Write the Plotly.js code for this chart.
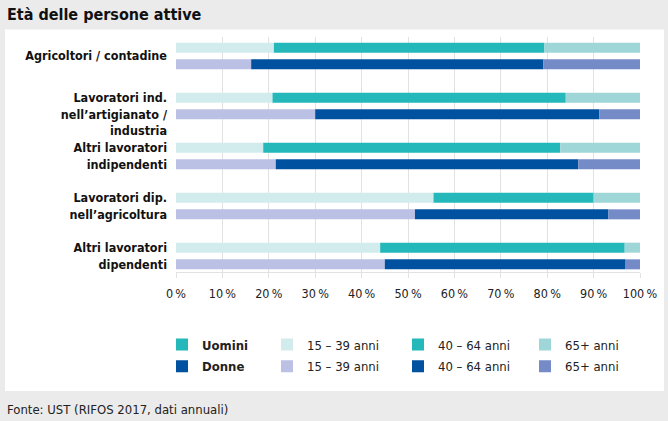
<!DOCTYPE html>
<html>
<head>
<meta charset="utf-8">
<script src="https://cdn.plot.ly/plotly-3.0.1.min.js"></script>
<style>
html,body{margin:0;padding:0;background:#ebebeb;}
#chart{width:668px;height:421px;}
</style>
</head>
<body>
<div id="chart"></div>
<script>
// ---- data ----
const categories = [
  "Agricoltori / contadine",
  "Lavoratori ind.<br>nell’artigianato /<br>industria",
  "Altri lavoratori<br>indipendenti",
  "Lavoratori dip.<br>nell’agricoltura",
  "Altri lavoratori<br>dipendenti"
];
const ageLabels = ["15 – 39 anni", "40 – 64 anni", "65+ anni"];
const men15 = [21.1, 20.8, 18.8, 55.5, 44.0];
const men40 = [58.3, 63.2, 64.0, 34.5, 52.7];
const men65 = [20.6, 16.0, 17.2, 10.0, 3.3];
const women15 = [16.2, 30.0, 21.5, 51.5, 45.0];
const women40 = [63.0, 61.2, 65.2, 41.7, 51.9];
const women65 = [20.8, 8.8, 13.3, 6.8, 3.1];
const xTicks = [0, 10, 20, 30, 40, 50, 60, 70, 80, 90, 100];

// ---- styles ----
const FONT = "'DejaVu Sans Condensed', 'Liberation Sans Narrow', 'Roboto', sans-serif";
const menColors = ["#d2ecee", "#25b8ba", "#9fd6d8"];
const womenColors = ["#bbc1e4", "#0051a0", "#748bc7"];

function addBase(a, b) { return a.map((v, i) => v + b[i]); }
const zeros = categories.map(() => 0);
const menSeries = [men15, men40, men65];
const womenSeries = [women15, women40, women65];

const traces = [];
// legend headers (no data)
traces.push({type: "bar", orientation: "h", x: [null], y: [categories[0]], name: "<b>Uomini</b>",
  marker: {color: "#25b8ba", line: {width: 0}}, legend: "legend", legendgroup: "hm", showlegend: true, hoverinfo: "skip"});
traces.push({type: "bar", orientation: "h", x: [null], y: [categories[0]], name: "<b>Donne</b>",
  marker: {color: "#0051a0", line: {width: 0}}, legend: "legend", legendgroup: "hw", showlegend: true, hoverinfo: "skip"});

const legendIds = ["legend2", "legend3", "legend4"];
for (let k = 0; k < 3; k++) {
  let baseM = zeros.slice(), baseW = zeros.slice();
  for (let j = 0; j < k; j++) { baseM = addBase(baseM, menSeries[j]); baseW = addBase(baseW, womenSeries[j]); }
  traces.push({type: "bar", orientation: "h", y: categories, x: menSeries[k], base: baseM,
    offsetgroup: "m", name: ageLabels[k], legend: legendIds[k], legendgroup: "m" + k,
    marker: {color: menColors[k], line: {width: 0}}});
  traces.push({type: "bar", orientation: "h", y: categories, x: womenSeries[k], base: baseW,
    offsetgroup: "w", name: ageLabels[k], legend: legendIds[k], legendgroup: "w" + k,
    marker: {color: womenColors[k], line: {width: 0}}});
}

// geometry helpers (pixel -> paper)
const L = 176, R = 640, T = 37, B = 272;
const px = v => (v - L) / (R - L);
const py = v => (B - v) / (B - T);

const legendBase = {orientation: "v", xanchor: "left", yanchor: "top", bgcolor: "rgba(0,0,0,0)",
  font: {family: FONT, size: 13, color: "#222"}, itemclick: false, itemdoubleclick: false, tracegroupgap: 2};
const legendY = py(329.5);

const yTickText = categories.map((c, i) => i === 1 ? "\u00a0<br>" + c : c);
const xTickText = xTicks.map(v => v + "\u2009%");

const layout = {
  width: 668, height: 421,
  paper_bgcolor: "#ebebeb", plot_bgcolor: "#ffffff",
  margin: {l: L, r: 668 - R, t: T, b: 421 - B, pad: 0},
  font: {family: FONT, color: "#222"},
  title: {text: "<b>Età delle persone attive</b>", x: 7 / 668, xref: "container", xanchor: "left",
    y: 1 - 14 / 421, yref: "container", yanchor: "middle", font: {family: FONT, size: 16, color: "#111"}},
  barmode: "group", bargap: 0.333, bargroupgap: 0.4,
  xaxis: {range: [0, 100], tickvals: xTicks, ticktext: xTickText, showgrid: true, gridcolor: "#e2e2e2",
    gridwidth: 1, zeroline: false, showline: true, linecolor: "#e2e2e2", ticks: "outside", ticklen: 5,
    tickcolor: "#e2e2e2", ticklabelstandoff: 5, tickfont: {family: FONT, size: 12.5, color: "#222"}, fixedrange: true},
  yaxis: {type: "category", range: [4.32, -0.38], tickvals: categories, ticktext: yTickText,
    showgrid: false, zeroline: false, showline: false, ticks: "", ticklabelstandoff: 8,
    tickfont: {family: FONT, size: 12.5, color: "#111", weight: "bold"}, fixedrange: true},
  legend: Object.assign({}, legendBase, {x: px(162), y: legendY}),
  legend2: Object.assign({}, legendBase, {x: px(267), y: legendY}),
  legend3: Object.assign({}, legendBase, {x: px(398), y: legendY}),
  legend4: Object.assign({}, legendBase, {x: px(525), y: legendY}),
  shapes: [{type: "rect", xref: "paper", yref: "paper", x0: px(5), x1: px(664), y0: py(391), y1: py(29.5),
    fillcolor: "#ffffff", line: {width: 0}, layer: "below"}],
  annotations: [{text: "Fonte: UST (RIFOS 2017, dati annuali)", xref: "paper", yref: "paper",
    x: px(5), y: py(409), xanchor: "left", yanchor: "middle", showarrow: false,
    font: {family: FONT, size: 13, color: "#222"}}]
};

Plotly.newPlot("chart", traces, layout, {displayModeBar: false, staticPlot: true});
</script>
</body>
</html>
